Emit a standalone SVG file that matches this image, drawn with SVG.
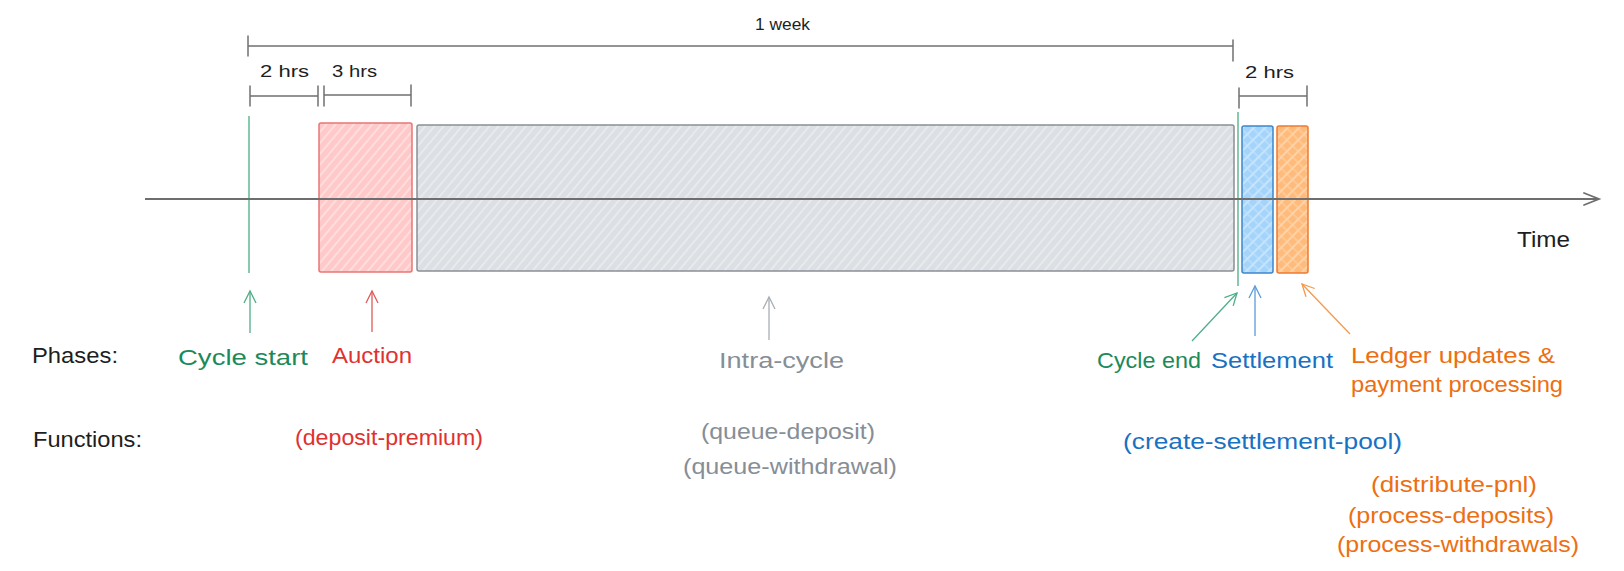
<svg xmlns="http://www.w3.org/2000/svg" width="1624" height="571" viewBox="0 0 1624 571">
<style>
.t{font-family:"Liberation Sans",Arial,sans-serif;font-size:22px}
.s{font-family:"Liberation Sans",Arial,sans-serif;font-size:17px;fill:#1e1e1e}
.dim{stroke:#707070;stroke-width:1.5;fill:none;stroke-linecap:round}
.k{fill:#1e1e1e}.g{fill:#1b8a5a}.r{fill:#e03131}.gr{fill:#868e96}.b{fill:#1971c2}.o{fill:#ec6f12}
</style>
<defs>
<pattern id="hRed" patternUnits="userSpaceOnUse" width="7" height="7" patternTransform="rotate(40)"><rect width="7" height="7" fill="#ffc9c9"/><line x1="1" y1="0" x2="1" y2="7" stroke="#ffe6e6" stroke-width="1.4"/></pattern>
<pattern id="hGray" patternUnits="userSpaceOnUse" width="7" height="7" patternTransform="rotate(40)"><rect width="7" height="7" fill="#dcdfe3"/><line x1="1" y1="0" x2="1" y2="7" stroke="#eef0f2" stroke-width="1.4"/></pattern>
<pattern id="hBlue" patternUnits="userSpaceOnUse" width="8" height="8" patternTransform="rotate(45)"><rect width="8" height="8" fill="#a5d4fb"/><line x1="1" y1="0" x2="1" y2="8" stroke="#d8eeff" stroke-width="1.3"/><line x1="0" y1="5" x2="8" y2="5" stroke="#c4e3fd" stroke-width="1.1"/></pattern>
<pattern id="hOrange" patternUnits="userSpaceOnUse" width="8" height="8" patternTransform="rotate(45)"><rect width="8" height="8" fill="#ffbb7c"/><line x1="1" y1="0" x2="1" y2="8" stroke="#ffe1c0" stroke-width="1.3"/><line x1="0" y1="5" x2="8" y2="5" stroke="#ffd2a4" stroke-width="1.1"/></pattern>
<marker id="aG" markerUnits="userSpaceOnUse" markerWidth="16" markerHeight="16" refX="13" refY="8" orient="auto"><path d="M1,2 L13,8 L1,14" fill="none" stroke="#4fae88" stroke-width="1.3"/></marker>
<marker id="aR" markerUnits="userSpaceOnUse" markerWidth="16" markerHeight="16" refX="13" refY="8" orient="auto"><path d="M1,2 L13,8 L1,14" fill="none" stroke="#e05a5a" stroke-width="1.3"/></marker>
<marker id="aGr" markerUnits="userSpaceOnUse" markerWidth="16" markerHeight="16" refX="13" refY="8" orient="auto"><path d="M1,2 L13,8 L1,14" fill="none" stroke="#a8aeb4" stroke-width="1.3"/></marker>
<marker id="aB" markerUnits="userSpaceOnUse" markerWidth="16" markerHeight="16" refX="13" refY="8" orient="auto"><path d="M1,2 L13,8 L1,14" fill="none" stroke="#5b9bd8" stroke-width="1.3"/></marker>
<marker id="aO" markerUnits="userSpaceOnUse" markerWidth="16" markerHeight="16" refX="13" refY="8" orient="auto"><path d="M1,2 L13,8 L1,14" fill="none" stroke="#f39a4e" stroke-width="1.3"/></marker>
</defs>
<rect width="1624" height="571" fill="#ffffff"/>

<g id="dimensions">
<path class="dim" d="M248,36 V56 M248,46 H1233 M1233,40 V61"/>
<text class="s" x="755" y="30" textLength="55" lengthAdjust="spacingAndGlyphs">1 week</text>
<path class="dim" d="M250,86 V106 M250,96 H318 M318,86 V106"/>
<text class="s" x="260" y="77" textLength="49" lengthAdjust="spacingAndGlyphs">2 hrs</text>
<path class="dim" d="M324,86 V106 M324,95 H411 M411,85 V106"/>
<text class="s" x="332" y="77" textLength="45" lengthAdjust="spacingAndGlyphs">3 hrs</text>
<path class="dim" d="M1239,88 V108 M1239,96 H1307 M1307,86 V106"/>
<text class="s" x="1245" y="78" textLength="49" lengthAdjust="spacingAndGlyphs">2 hrs</text>
</g>

<g id="auction-block"><rect x="319" y="123" width="93" height="149" rx="2" fill="url(#hRed)" stroke="#e87575" stroke-width="1.5"/></g>
<g id="intra-cycle-block"><rect x="417" y="125" width="817" height="146" rx="2" fill="url(#hGray)" stroke="#8a8f95" stroke-width="1.5"/></g>
<g id="settlement-block"><rect x="1242" y="126" width="31" height="147" rx="2" fill="url(#hBlue)" stroke="#3d86cc" stroke-width="1.5"/></g>
<g id="ledger-block"><rect x="1277" y="126" width="31" height="147" rx="2" fill="url(#hOrange)" stroke="#f07a30" stroke-width="1.5"/></g>

<g id="cycle-start-line"><line x1="249" y1="116" x2="249" y2="273" stroke="#5fb892" stroke-width="1.5"/></g>
<g id="cycle-end-line"><line x1="1238" y1="112" x2="1238" y2="286" stroke="#5fb892" stroke-width="1.5"/></g>

<g id="time-axis">
<path d="M145,199 H1598" stroke="#6e6e6e" stroke-width="1.8" fill="none"/>
<path d="M1584,193 L1599,199 L1584,205" stroke="#6e6e6e" stroke-width="1.8" fill="none" stroke-linecap="round"/>
<text class="t k" x="1517" y="247" textLength="53" lengthAdjust="spacingAndGlyphs">Time</text>
</g>

<g id="connectors" fill="none" stroke-width="1.3">
<line x1="250" y1="333" x2="250" y2="291" stroke="#4fae88" marker-end="url(#aG)"/>
<line x1="372" y1="332" x2="372" y2="291" stroke="#e05a5a" marker-end="url(#aR)"/>
<line x1="769" y1="340" x2="769" y2="297" stroke="#a8aeb4" marker-end="url(#aGr)"/>
<line x1="1192" y1="341" x2="1237" y2="293" stroke="#4fae88" marker-end="url(#aG)"/>
<line x1="1255" y1="336" x2="1255" y2="286" stroke="#5b9bd8" marker-end="url(#aB)"/>
<line x1="1350" y1="334" x2="1302" y2="284" stroke="#f39a4e" marker-end="url(#aO)"/>
</g>

<g id="row-labels">
<text class="t k" x="32" y="363" textLength="86" lengthAdjust="spacingAndGlyphs">Phases:</text>
<text class="t k" x="33" y="447" textLength="109" lengthAdjust="spacingAndGlyphs">Functions:</text>
</g>
<g id="cycle-start"><text class="t g" x="178" y="365" textLength="130" lengthAdjust="spacingAndGlyphs">Cycle start</text></g>
<g id="auction">
<text class="t r" x="332" y="363" textLength="80" lengthAdjust="spacingAndGlyphs">Auction</text>
<text class="t r" x="295" y="445" textLength="188" lengthAdjust="spacingAndGlyphs">(deposit-premium)</text>
</g>
<g id="intra-cycle">
<text class="t gr" x="719" y="368" textLength="125" lengthAdjust="spacingAndGlyphs">Intra-cycle</text>
<text class="t gr" x="701" y="439" textLength="174" lengthAdjust="spacingAndGlyphs">(queue-deposit)</text>
<text class="t gr" x="683" y="474" textLength="214" lengthAdjust="spacingAndGlyphs">(queue-withdrawal)</text>
</g>
<g id="cycle-end"><text class="t g" x="1097" y="368" textLength="104" lengthAdjust="spacingAndGlyphs">Cycle end</text></g>
<g id="settlement">
<text class="t b" x="1211" y="368" textLength="122" lengthAdjust="spacingAndGlyphs">Settlement</text>
<text class="t b" x="1123" y="449" textLength="279" lengthAdjust="spacingAndGlyphs">(create-settlement-pool)</text>
</g>
<g id="ledger">
<text class="t o" x="1351" y="363" textLength="204" lengthAdjust="spacingAndGlyphs">Ledger updates &amp;</text>
<text class="t o" x="1351" y="392" textLength="212" lengthAdjust="spacingAndGlyphs">payment processing</text>
<text class="t o" x="1371" y="492" textLength="166" lengthAdjust="spacingAndGlyphs">(distribute-pnl)</text>
<text class="t o" x="1348" y="523" textLength="206" lengthAdjust="spacingAndGlyphs">(process-deposits)</text>
<text class="t o" x="1337" y="552" textLength="242" lengthAdjust="spacingAndGlyphs">(process-withdrawals)</text>
</g>
</svg>
